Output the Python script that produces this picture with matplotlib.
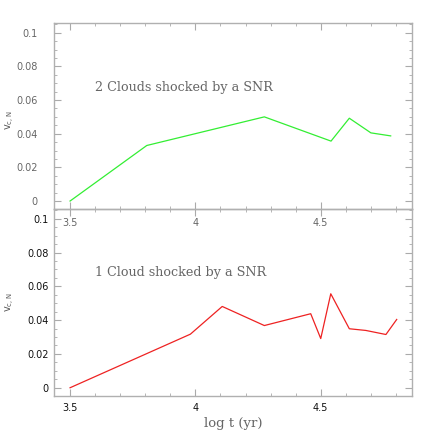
import matplotlib
matplotlib.use("Agg")
import matplotlib.pyplot as plt
from matplotlib.ticker import MultipleLocator, FuncFormatter

# 2 clouds (top panel)
t2 = [3.5, 3.806, 4.275, 4.541, 4.614, 4.70, 4.779]
v2 = [0.0, 0.033, 0.050, 0.0356, 0.0492, 0.0405, 0.0387]

# 1 cloud (bottom panel)
t1 = [3.5, 3.98, 4.107, 4.275, 4.46, 4.50, 4.54, 4.614, 4.68, 4.76, 4.803]
v1 = [0.0, 0.0317, 0.0481, 0.0368, 0.0438, 0.0291, 0.0556, 0.0349, 0.0339, 0.0315, 0.0404]

xticks = [3.5, 4, 4.5]
yticks = [0, 0.02, 0.04, 0.06, 0.08, 0.1]


def fmt(v, _):
    return f"{v:g}"


def style(ax, lab_color, ypad, xpad):
    ax.set_xlim(3.437, 4.865)
    ax.set_ylim(-0.0049, 0.1056)
    ax.set_xticks(xticks)
    ax.set_yticks(yticks)
    ax.xaxis.set_major_formatter(FuncFormatter(fmt))
    ax.yaxis.set_major_formatter(FuncFormatter(fmt))
    ax.xaxis.set_minor_locator(MultipleLocator(0.1))
    ax.yaxis.set_minor_locator(MultipleLocator(0.005))
    ax.tick_params(which="both", direction="in", top=True, right=True,
                   color="#aaaaaa", labelsize=7, labelcolor=lab_color)
    ax.tick_params(which="major", length=5, width=0.8)
    ax.tick_params(which="minor", length=2.5, width=0.6)
    ax.tick_params(axis="y", pad=ypad)
    ax.tick_params(axis="x", pad=xpad)
    for s in ax.spines.values():
        s.set_color("#b0b0b0")
        s.set_linewidth(1.0)


fig = plt.figure(figsize=(4.36, 4.36), dpi=100)
ax2 = fig.add_axes([0.1245, 0.0917, 0.821, 0.4283])
ax1 = fig.add_axes([0.1245, 0.520, 0.821, 0.4266])
ax1.patch.set_alpha(0)

ax1.plot(t2, v2, color="#33ee33", lw=0.9)
style(ax1, "#666666", 12, 6)
ax1.text(0.115, 0.657, "2 Clouds shocked by a SNR", transform=ax1.transAxes,
         family="DejaVu Serif", fontsize=9.2, color="#666666", va="center")
ax1.set_ylabel(r"v$_{\rm c,N}$", fontsize=7, color="#555555")
ax1.yaxis.set_label_coords(-0.105, 0.48)

ax2.plot(t1, v1, color="#ee2222", lw=0.9)
style(ax2, "#111111", 4, 5)
ax2.text(0.115, 0.66, "1 Cloud shocked by a SNR", transform=ax2.transAxes,
         family="DejaVu Serif", fontsize=9.2, color="#666666", va="center")
ax2.set_ylabel(r"v$_{\rm c,N}$", fontsize=7, color="#555555")
ax2.yaxis.set_label_coords(-0.105, 0.503)
ax2.set_xlabel("log t (yr)", family="DejaVu Serif", fontsize=9.5,
               color="#666666", labelpad=3)

fig.savefig("out.png", dpi=100)
